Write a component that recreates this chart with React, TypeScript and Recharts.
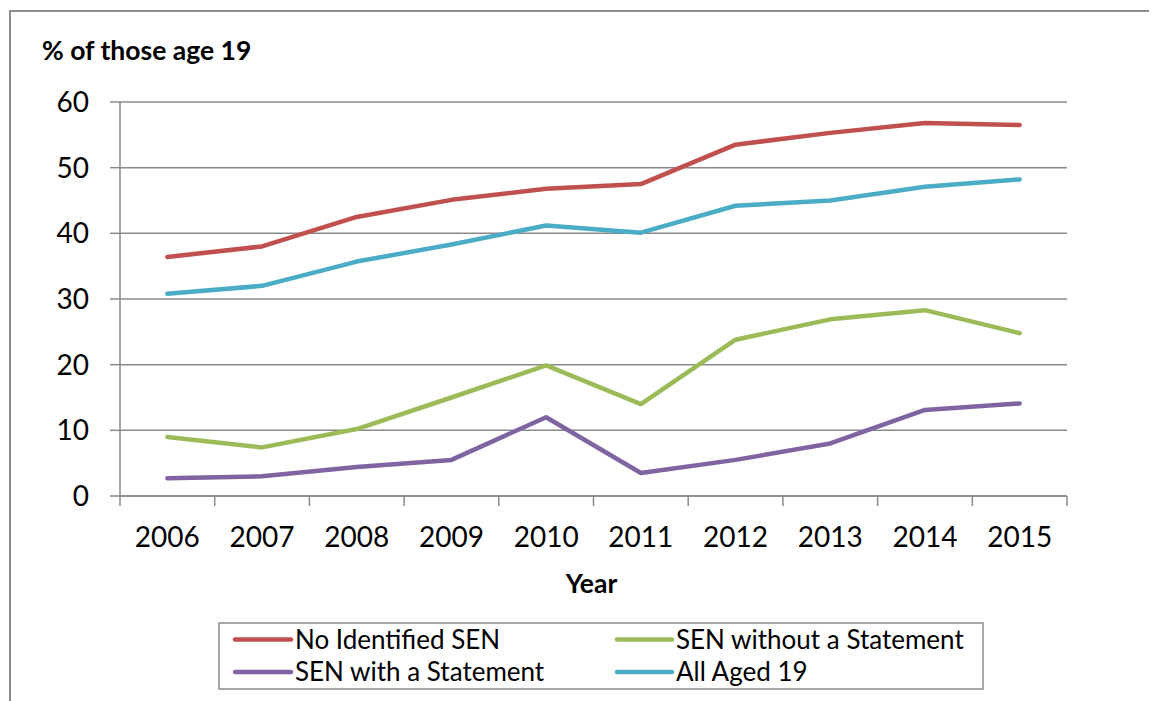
import React from 'react';
import { LineChart, Line, XAxis, YAxis, CartesianGrid, Customized } from 'recharts';

const years = ['2006', '2007', '2008', '2009', '2010', '2011', '2012', '2013', '2014', '2015'];
const noIdentifiedSEN = [36.4, 38.0, 42.5, 45.1, 46.8, 47.5, 53.5, 55.3, 56.8, 56.5];
const senWithoutStatement = [9.0, 7.4, 10.2, 15.0, 19.9, 14.0, 23.8, 26.9, 28.3, 24.8];
const senWithStatement = [2.7, 3.0, 4.4, 5.5, 12.0, 3.5, 5.5, 8.0, 13.1, 14.1];
const allAged19 = [30.8, 32.0, 35.7, 38.3, 41.2, 40.1, 44.2, 45.0, 47.1, 48.2];
const yTicks = [0, 10, 20, 30, 40, 50, 60];

const series = [
  { key: 'noSEN', name: 'No Identified SEN', color: '#C0504D', values: noIdentifiedSEN },
  { key: 'senNo', name: 'SEN without a Statement', color: '#9BBB59', values: senWithoutStatement },
  { key: 'senWith', name: 'SEN with a Statement', color: '#8064A2', values: senWithStatement },
  { key: 'all', name: 'All Aged 19', color: '#4BACC6', values: allAged19 },
];

const data = years.map((y, i) => {
  const row: Record<string, any> = { year: y };
  series.forEach((s) => {
    row[s.key] = s.values[i];
  });
  return row;
});

const FONT = 'Lato, "Open Sans", sans-serif';
const GRID = '#898989';

const XTick = (props: any) => {
  const { x, y, payload, index, visibleTicksCount } = props;
  const half = payload && payload.offset ? payload.offset : 47.3;
  const axisY = y - 31;
  return (
    <g>
      <line x1={x - half} y1={axisY} x2={x - half} y2={axisY + 10} stroke={GRID} strokeWidth={1.5} />
      {index === visibleTicksCount - 1 && (
        <line x1={x + half} y1={axisY} x2={x + half} y2={axisY + 10} stroke={GRID} strokeWidth={1.5} />
      )}
      <text x={x} y={y} dy="0.71em" textAnchor="middle" fontFamily={FONT} fontSize={28} fill="#000">
        {payload.value}
      </text>
    </g>
  );
};

const Overlay = () => {
  const legendCols = [
    { sx1: 227, sx2: 283, tx: 287 },
    { sx1: 609, sx2: 664, tx: 668 },
  ];
  const rows = [631.5, 664];
  return (
    <g>
      <text x={34} y={52} fontFamily={FONT} fontWeight="bold" fontSize={26.5} fill="#000">
        % of those age 19
      </text>
      <text x={583.5} y={585} textAnchor="middle" fontFamily={FONT} fontWeight="bold" fontSize={26.5} fill="#000">
        Year
      </text>
      <rect x={211} y={615} width={764} height={66} fill="#fff" stroke="#8c8c8c" strokeWidth={1.5} />
      {series.map((s, i) => {
        const c = legendCols[i % 2];
        const ry = rows[Math.floor(i / 2)];
        return (
          <g key={s.key}>
            <line x1={c.sx1} y1={ry} x2={c.sx2} y2={ry} stroke={s.color} strokeWidth={4.5} strokeLinecap="round" />
            <text x={c.tx} y={ry} dy="0.36em" fontFamily={FONT} fontSize={26} fill="#000">
              {s.name}
            </text>
          </g>
        );
      })}
    </g>
  );
};

export default function App() {
  return (
    <div style={{ position: 'relative', width: 1149, height: 693, overflow: 'hidden', background: '#fff' }}>
      <div
        style={{
          position: 'absolute',
          left: 1,
          top: 2,
          width: 1200,
          height: 800,
          borderLeft: '2px solid #8c8c8c',
          borderTop: '2px solid #8c8c8c',
          boxSizing: 'border-box',
        }}
      />
      <div style={{ position: 'absolute', left: 0, top: 0 }}>
        <LineChart
          width={1149}
          height={693}
          data={data}
          margin={{ top: 94, right: 90, left: 52, bottom: 165 }}
        >
          <CartesianGrid vertical={false} horizontal stroke={GRID} strokeWidth={1.5} />
          <XAxis
            dataKey="year"
            scale="band"
            height={40}
            axisLine={{ stroke: GRID, strokeWidth: 1.5 }}
            tickLine={false}
            tickSize={10}
            tickMargin={21}
            tick={<XTick />}
            interval={0}
          />
          <YAxis
            width={60}
            domain={[0, 60]}
            ticks={yTicks}
            interval={0}
            axisLine={{ stroke: GRID, strokeWidth: 1.5 }}
            tickLine={{ stroke: GRID, strokeWidth: 1.5 }}
            tickSize={10}
            tickMargin={21}
            tick={{ fontFamily: FONT, fontSize: 28, fill: '#000' }}
          />
          {series.map((s) => (
            <Line
              key={s.key}
              dataKey={s.key}
              name={s.name}
              stroke={s.color}
              strokeWidth={4.5}
              strokeLinecap="round"
              strokeLinejoin="round"
              dot={false}
              activeDot={false}
              isAnimationActive={false}
            />
          ))}
          <Customized component={Overlay} />
        </LineChart>
      </div>
    </div>
  );
}
